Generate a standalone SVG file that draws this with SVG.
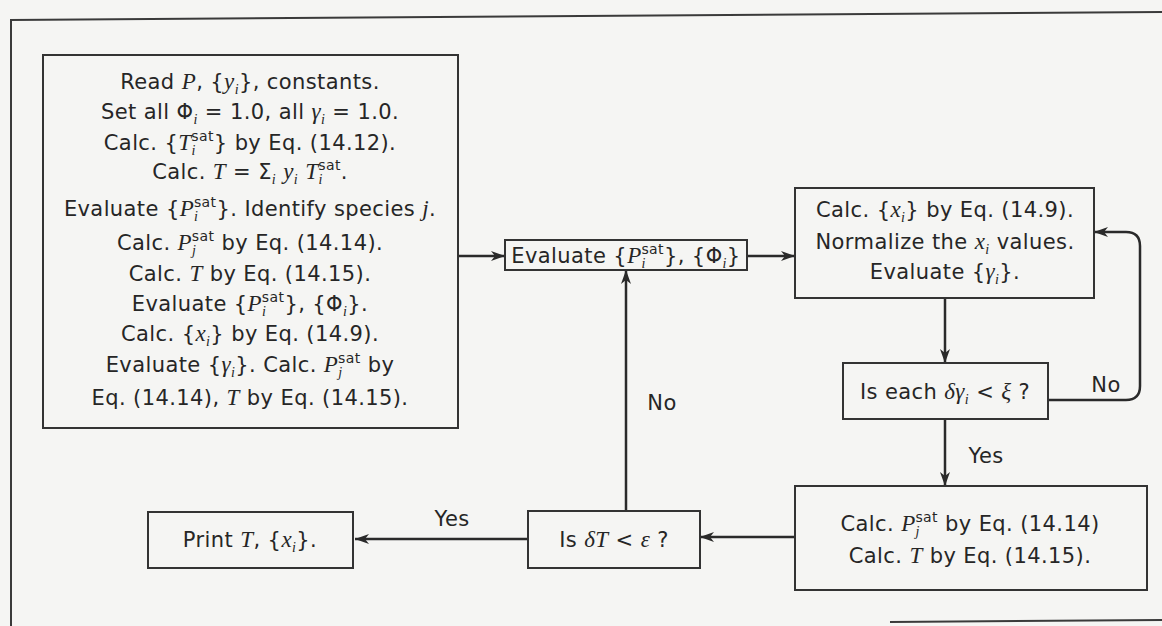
<svg xmlns="http://www.w3.org/2000/svg" width="1162" height="626" viewBox="0 0 1162 626">
<style>
.t{font-family:"DejaVu Sans","Liberation Sans",Arial,sans-serif;font-size:21px;letter-spacing:0.4px;fill:#262626;text-anchor:middle}
.v{font-family:"Liberation Serif","Times New Roman",serif;font-style:italic;font-size:23px}
.s{font-size:14px}
.box{fill:none;stroke:#333;stroke-width:2}
.ln{fill:none;stroke:#2a2a2a;stroke-width:2.5}
.frame{fill:none;stroke:#3a3a3a;stroke-width:2}
</style>
<defs>
<marker id="ah" markerUnits="userSpaceOnUse" markerWidth="16" markerHeight="10" refX="14" refY="5" orient="auto">
<path d="M0,0 L14,5 L0,10 L4,5 z" fill="#2a2a2a"/>
</marker>
</defs>
<rect width="1162" height="626" fill="#f5f5f3"/>
<g id="frame">
<path class="frame" d="M10,20 L1162,12"/>
<path class="frame" d="M11,20 L11,626"/>
<path class="frame" d="M890,622 L1162,620"/>
</g>
<g id="connectors">
<path class="ln" d="M458,256 L505,256" marker-end="url(#ah)"/>
<path class="ln" d="M747,256 L795,256" marker-end="url(#ah)"/>
<path class="ln" d="M945,298 L945,363" marker-end="url(#ah)"/>
<path class="ln" d="M1048,400 L1126,400 Q1140,400 1140,386 L1140,246 Q1140,232 1126,232 L1094,232" marker-end="url(#ah)"/>
<path class="ln" d="M945,419 L945,486" marker-end="url(#ah)"/>
<path class="ln" d="M795,537 L700,537" marker-end="url(#ah)"/>
<path class="ln" d="M626,511 L626,270" marker-end="url(#ah)"/>
<path class="ln" d="M528,539 L355,539" marker-end="url(#ah)"/>
<text class="t" x="1106" y="392">No</text>
<text class="t" x="986" y="463">Yes</text>
<text class="t" x="662" y="410">No</text>
<text class="t" x="452" y="526">Yes</text>
</g>
<g id="init">
<rect class="box" x="43" y="55" width="415" height="373"/>
<text class="t" x="250" y="89">Read <tspan class="v">P</tspan>, {<tspan class="v">y</tspan><tspan class="s v" dy="5">i</tspan><tspan dy="-5">}, constants.</tspan></text>
<text class="t" x="250" y="119">Set all Φ<tspan class="s v" dy="5">i</tspan><tspan dy="-5"> = 1.0, all </tspan><tspan class="v">γ</tspan><tspan class="s v" dy="5">i</tspan><tspan dy="-5"> = 1.0.</tspan></text>
<text class="t" x="250" y="150">Calc. {<tspan class="v">T</tspan><tspan class="s v" dy="5">i</tspan><tspan class="s" dx="-4.5" dy="-14">sat</tspan><tspan dy="9">} by Eq. (14.12).</tspan></text>
<text class="t" x="250" y="179">Calc. <tspan class="v">T</tspan> = Σ<tspan class="s v" dy="5">i</tspan><tspan dy="-5"> </tspan><tspan class="v">y</tspan><tspan class="s v" dy="5">i</tspan><tspan dy="-5"> </tspan><tspan class="v">T</tspan><tspan class="s v" dy="5">i</tspan><tspan class="s" dx="-4.5" dy="-14">sat</tspan><tspan dy="9">.</tspan></text>
<text class="t" x="250" y="216">Evaluate {<tspan class="v">P</tspan><tspan class="s v" dy="5">i</tspan><tspan class="s" dx="-4.5" dy="-14">sat</tspan><tspan dy="9">}. Identify species </tspan><tspan class="v">j</tspan>.</text>
<text class="t" x="250" y="250">Calc. <tspan class="v">P</tspan><tspan class="s v" dy="5">j</tspan><tspan class="s" dx="-4.5" dy="-14">sat</tspan><tspan dy="9"> by Eq. (14.14).</tspan></text>
<text class="t" x="250" y="281">Calc. <tspan class="v">T</tspan> by Eq. (14.15).</text>
<text class="t" x="250" y="311">Evaluate {<tspan class="v">P</tspan><tspan class="s v" dy="5">i</tspan><tspan class="s" dx="-4.5" dy="-14">sat</tspan><tspan dy="9">}, {Φ</tspan><tspan class="s v" dy="5">i</tspan><tspan dy="-5">}.</tspan></text>
<text class="t" x="250" y="341">Calc. {<tspan class="v">x</tspan><tspan class="s v" dy="5">i</tspan><tspan dy="-5">} by Eq. (14.9).</tspan></text>
<text class="t" x="250" y="372">Evaluate {<tspan class="v">γ</tspan><tspan class="s v" dy="5">i</tspan><tspan dy="-5">}. Calc. </tspan><tspan class="v">P</tspan><tspan class="s v" dy="5">j</tspan><tspan class="s" dx="-4.5" dy="-14">sat</tspan><tspan dy="9"> by</tspan></text>
<text class="t" x="250" y="405">Eq. (14.14), <tspan class="v">T</tspan> by Eq. (14.15).</text>
</g>
<g id="evaluate">
<rect class="box" x="505" y="240" width="242" height="30"/>
<text class="t" x="626" y="263">Evaluate {<tspan class="v">P</tspan><tspan class="s v" dy="5">i</tspan><tspan class="s" dx="-4.5" dy="-14">sat</tspan><tspan dy="9">}, {Φ</tspan><tspan class="s v" dy="5">i</tspan><tspan dy="-5">}</tspan></text>
</g>
<g id="calcx">
<rect class="box" x="795" y="188" width="299" height="110"/>
<text class="t" x="945" y="217">Calc. {<tspan class="v">x</tspan><tspan class="s v" dy="5">i</tspan><tspan dy="-5">} by Eq. (14.9).</tspan></text>
<text class="t" x="945" y="249">Normalize the <tspan class="v">x</tspan><tspan class="s v" dy="5">i</tspan><tspan dy="-5"> values.</tspan></text>
<text class="t" x="945" y="279">Evaluate {<tspan class="v">γ</tspan><tspan class="s v" dy="5">i</tspan><tspan dy="-5">}.</tspan></text>
</g>
<g id="checkgamma">
<rect class="box" x="843" y="363" width="205" height="56"/>
<text class="t" x="945" y="399">Is each <tspan class="v">δγ</tspan><tspan class="s v" dy="5">i</tspan><tspan dy="-5"> &lt; </tspan><tspan class="v">ξ</tspan> ?</text>
</g>
<g id="calcp">
<rect class="box" x="795" y="486" width="352" height="104"/>
<text class="t" x="970" y="531">Calc. <tspan class="v">P</tspan><tspan class="s v" dy="5">j</tspan><tspan class="s" dx="-4.5" dy="-14">sat</tspan><tspan dy="9"> by Eq. (14.14)</tspan></text>
<text class="t" x="970" y="563">Calc. <tspan class="v">T</tspan> by Eq. (14.15).</text>
</g>
<g id="checkT">
<rect class="box" x="528" y="511" width="172" height="57"/>
<text class="t" x="614" y="547">Is <tspan class="v">δT</tspan> &lt; <tspan class="v">ε</tspan> ?</text>
</g>
<g id="print">
<rect class="box" x="148" y="512" width="205" height="56"/>
<text class="t" x="250" y="547">Print <tspan class="v">T</tspan>, {<tspan class="v">x</tspan><tspan class="s v" dy="5">i</tspan><tspan dy="-5">}.</tspan></text>
</g>
</svg>
